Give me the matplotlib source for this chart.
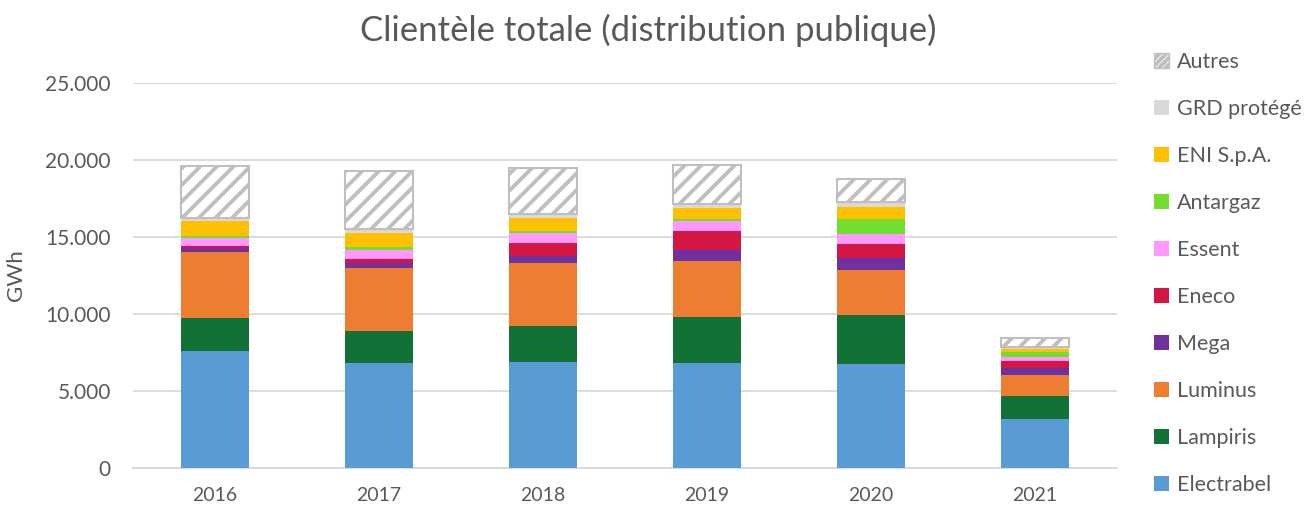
import numpy as np
import matplotlib.pyplot as plt
from matplotlib.patches import Patch
from matplotlib.ticker import FuncFormatter

years = ['2016', '2017', '2018', '2019', '2020', '2021']
series = ['Electrabel', 'Lampiris', 'Luminus', 'Mega', 'Eneco', 'Essent',
          'Antargaz', 'ENI S.p.A.', 'GRD protégé', 'Autres']

electrabel = [7600, 6820, 6880, 6820, 6750, 3180]
lampiris = [2140, 2080, 2340, 3010, 3190, 1510]
luminus = [4290, 4110, 4070, 3630, 2920, 1350]
mega = [250, 290, 500, 700, 800, 470]
eneco = [110, 260, 800, 1250, 890, 440]
essent = [550, 600, 650, 650, 620, 280]
antargaz = [150, 210, 170, 130, 980, 280]
eni = [930, 870, 800, 710, 830, 200]
grd = [220, 260, 260, 240, 270, 170]
autres = [3370, 3810, 2990, 2540, 1520, 540]

values = [electrabel, lampiris, luminus, mega, eneco, essent, antargaz, eni, grd, autres]
colors = ['#5B9BD5', '#127135', '#ED7D31', '#7030A0', '#D41645', '#FF99FF',
          '#72DF30', '#FFC000', '#D9D9D9', 'white']

plt.rcParams['font.family'] = ['Lato', 'DejaVu Sans']
plt.rcParams['hatch.linewidth'] = 2.8
plt.rcParams['hatch.color'] = '#BFBFBF'

fig = plt.figure(figsize=(13.05, 5.11), dpi=100)
ax = fig.add_axes([0.102, 0.0841, 0.754, 0.7535])

x = np.arange(len(years))
bottom = np.zeros(len(years))
handles = []
for name, vals, col in zip(series, values, colors):
    vals = np.array(vals, dtype=float)
    if name == 'Autres':
        ax.bar(x, vals, 0.41, bottom=bottom, color='white', edgecolor='#BFBFBF',
               hatch='//', linewidth=1.5, zorder=3)
        handles.append(Patch(facecolor='white', edgecolor='#BFBFBF', hatch='/////', label=name))
    else:
        ax.bar(x, vals, 0.41, bottom=bottom, color=col, edgecolor='none', zorder=3)
        handles.append(Patch(facecolor=col, edgecolor='none', label=name))
    bottom += vals

ax.set_xlim(-0.5, 5.5)
ax.set_ylim(0, 25000)
ax.set_xticks(x)
ax.set_xticklabels(years)
ax.set_yticks(np.arange(0, 25001, 5000))
ax.yaxis.set_major_formatter(FuncFormatter(lambda v, p: f'{int(v):,}'.replace(',', '.')))
ax.grid(axis='y', color='#D9D9D9', linewidth=1.3, zorder=0)
for s in ['top', 'right', 'left']:
    ax.spines[s].set_visible(False)
ax.spines['bottom'].set_color('#D9D9D9')
ax.spines['bottom'].set_linewidth(1.3)
ax.tick_params(axis='y', length=0, labelsize=15, labelcolor='#595959', pad=16)
ax.tick_params(axis='x', length=0, labelsize=14, labelcolor='#595959', pad=14)
ax.set_ylabel('GWh', fontsize=16, color='#595959', labelpad=14)

fig.text(0.497, 0.94, 'Clientèle totale (distribution publique)', ha='center', va='center',
         fontsize=25, color='#595959')

fig.legend(handles=handles[::-1], loc='upper left', bbox_to_anchor=(0.876, 0.92),
           frameon=False, fontsize=15.5, labelcolor='#595959', handlelength=0.7,
           handleheight=0.7, handletextpad=0.35, labelspacing=1.255, borderpad=0)

fig.savefig('out.png', dpi=100)
